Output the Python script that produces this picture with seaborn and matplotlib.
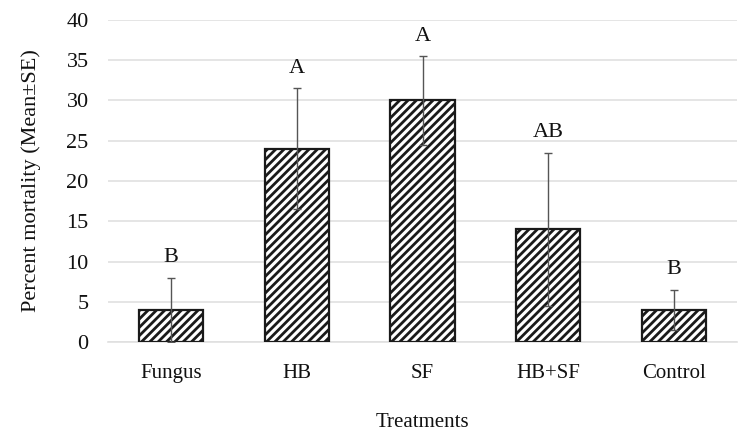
import matplotlib
matplotlib.use("Agg")
import matplotlib.pyplot as plt
import seaborn as sns
import pandas as pd
import numpy as np

treatments = ["Fungus", "HB", "SF", "HB+SF", "Control"]
means = [4, 24, 30, 14, 4]
se = [4, 7.5, 5.5, 9.5, 2.5]
letters = ["B", "A", "A", "AB", "B"]

df = pd.DataFrame({"Treatment": treatments, "Mortality": means})

sns.set_theme(style="white")
plt.rcParams["font.family"] = ["Liberation Serif", "DejaVu Serif"]
plt.rcParams["hatch.linewidth"] = 2.0
plt.rcParams["hatch.color"] = "#1a1a1a"

fig = plt.figure(figsize=(7.4, 4.33), dpi=100)
ax = fig.add_axes([0.146, 0.21, 0.85, 0.744])

sns.barplot(data=df, x="Treatment", y="Mortality", order=treatments,
            color="white", edgecolor="#1a1a1a", linewidth=1.6,
            hatch="////", width=0.51, errorbar=None, ax=ax, zorder=3)

xs = np.arange(len(treatments))
ax.errorbar(xs, means, yerr=se, fmt="none", ecolor="#555555",
            elinewidth=1.0, capsize=3, capthick=1.0, zorder=4)

for x, m, s, t in zip(xs, means, se, letters):
    ax.text(x, m + s + 1.3, t, ha="center", va="bottom", fontsize=16,
            color="#111111")

ax.set_ylim(0, 40)
ax.set_yticks(range(0, 41, 5))
ax.set_xlim(-0.5, len(treatments) - 0.5)
ax.yaxis.grid(True, color="#e0e0e0", linewidth=1.2, zorder=0)
ax.set_axisbelow(True)
for sp in ["top", "right", "left"]:
    ax.spines[sp].set_visible(False)
ax.spines["bottom"].set_color("#e0e0e0")
ax.spines["bottom"].set_linewidth(1.2)
ax.tick_params(axis="y", length=0, labelsize=16, colors="#111111", pad=14)
ax.tick_params(axis="x", length=0, labelsize=15, colors="#111111", pad=16)
ax.set_ylabel("Percent mortality (Mean±SE)", fontsize=16, color="#111111", labelpad=18)
ax.set_xlabel("Treatments", fontsize=15, color="#111111")
ax.xaxis.set_label_coords(0.5, -0.22)

fig.savefig("out.png", dpi=100)
